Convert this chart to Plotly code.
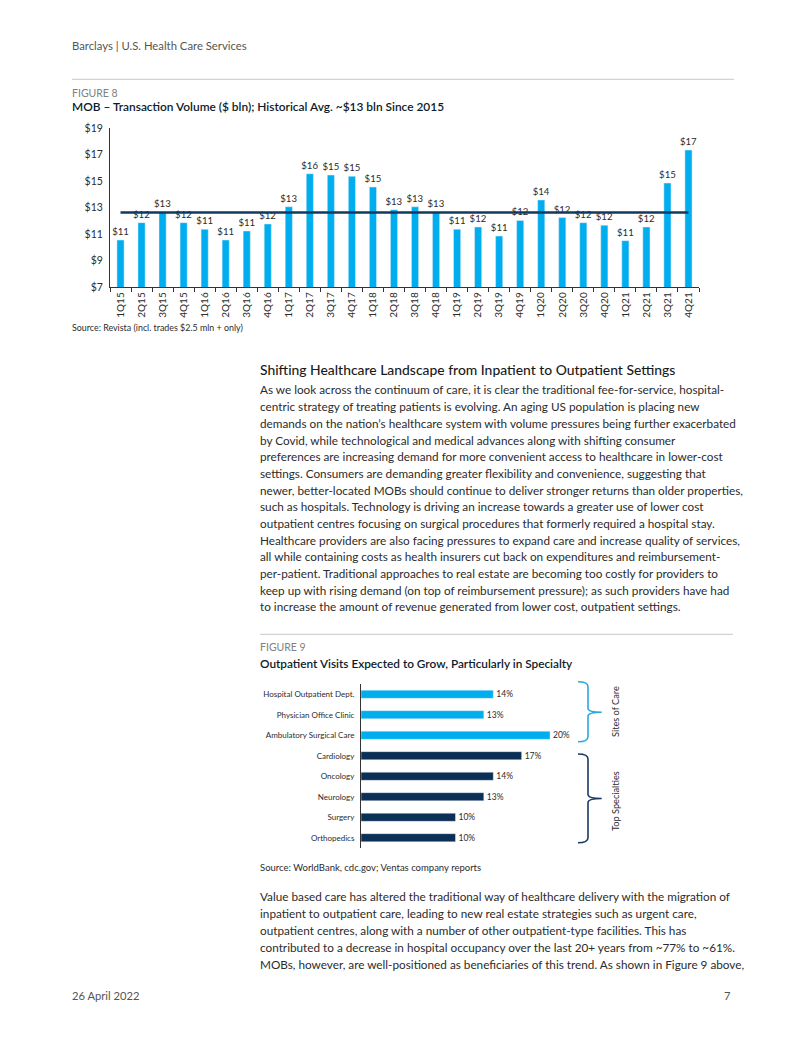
import plotly.graph_objects as go
import numpy as np

# ---------------- data ----------------
quarters = ["1Q15", "2Q15", "3Q15", "4Q15", "1Q16", "2Q16", "3Q16", "4Q16",
            "1Q17", "2Q17", "3Q17", "4Q17", "1Q18", "2Q18", "3Q18", "4Q18",
            "1Q19", "2Q19", "3Q19", "4Q19", "1Q20", "2Q20", "3Q20", "4Q20",
            "1Q21", "2Q21", "3Q21", "4Q21"]
mob_volume = [10.57, 11.88, 12.66, 11.88, 11.38, 10.57, 11.25, 11.78,
              13.08, 15.57, 15.47, 15.38, 14.57, 12.86, 13.08, 12.66,
              11.38, 11.55, 10.87, 12.05, 13.59, 12.26, 11.88, 11.68,
              10.52, 11.55, 14.87, 17.36]
hist_avg = float(np.mean(mob_volume))

visit_categories = ["Hospital Outpatient Dept.", "Physician Office Clinic",
                    "Ambulatory Surgical Care", "Cardiology", "Oncology",
                    "Neurology", "Surgery", "Orthopedics"]
visit_growth = [14, 13, 20, 17, 14, 13, 10, 10]
visit_groups = ["Sites of Care"] * 3 + ["Top Specialties"] * 5

para1 = [
    "As we look across the continuum of care, it is clear the traditional fee-for-service, hospital-",
    "centric strategy of treating patients is evolving. An aging US population is placing new",
    "demands on the nation\u2019s healthcare system with volume pressures being further exacerbated",
    "by Covid, while technological and medical advances along with shifting consumer",
    "preferences are increasing demand for more convenient access to healthcare in lower-cost",
    "settings. Consumers are demanding greater flexibility and convenience, suggesting that",
    "newer, better-located MOBs should continue to deliver stronger returns than older properties,",
    "such as hospitals. Technology is driving an increase towards a greater use of lower cost",
    "outpatient centres focusing on surgical procedures that formerly required a hospital stay.",
    "Healthcare providers are also facing pressures to expand care and increase quality of services,",
    "all while containing costs as health insurers cut back on expenditures and reimbursement-",
    "per-patient. Traditional approaches to real estate are becoming too costly for providers to",
    "keep up with rising demand (on top of reimbursement pressure); as such providers have had",
    "to increase the amount of revenue generated from lower cost, outpatient settings.",
]
para2 = [
    "Value based care has altered the traditional way of healthcare delivery with the migration of",
    "inpatient to outpatient care, leading to new real estate strategies such as urgent care,",
    "outpatient centres, along with a number of other outpatient-type facilities. This has",
    "contributed to a decrease in hospital occupancy over the last 20+ years from ~77% to ~61%.",
    "MOBs, however, are well-positioned as beneficiaries of this trend. As shown in Figure 9 above,",
]

# ---------------- styling ----------------
W, H = 802, 1037
FONT = "Lato"
CYAN = "#00AEEF"
NAVY = "#0B2F55"
TXT = "#2B2B2B"
GREY = "#808080"
BODY = 11.75
group_colors = {"Sites of Care": CYAN, "Top Specialties": NAVY}


def X(px):
    return px / W


def Y(py):
    return 1 - py / H


fig = go.Figure()

# Figure 8 bars
fig.add_trace(go.Bar(
    x=quarters, y=mob_volume, width=0.34, marker_color=CYAN,
    texttemplate="$%{y:.0f}", textposition="outside", constraintext="none",
    textfont=dict(size=9.6, color=TXT, family=FONT), cliponaxis=False,
    xaxis="x", yaxis="y", showlegend=False,
))
fig.add_trace(go.Scatter(
    x=quarters, y=[hist_avg] * len(quarters), mode="lines",
    line=dict(color="#12385E", width=2.5), xaxis="x", yaxis="y",
    showlegend=False, cliponaxis=False,
))

# Figure 9 bars
fig.add_trace(go.Bar(
    x=visit_growth, y=visit_categories, orientation="h", width=0.4,
    marker_color=[group_colors[g] for g in visit_groups],
    texttemplate="%{x:.0f}%", textposition="outside", constraintext="none",
    textfont=dict(size=8.5, color=TXT, family=FONT), cliponaxis=False,
    xaxis="x2", yaxis="y2", showlegend=False,
))

annotations = []


def txt(x, y, text, size, color=TXT, anchor="left", weight=None, angle=0):
    f = dict(family=FONT, size=size, color=color)
    if weight:
        f["weight"] = weight
    annotations.append(dict(
        x=X(x), y=Y(y), xref="paper", yref="paper", text=text, showarrow=False,
        xanchor=anchor, yanchor="middle", font=f, textangle=angle,
        borderpad=0, borderwidth=0,
    ))


txt(72, 46, "Barclays | U.S. Health Care Services", 11.3, "#555555")
txt(72, 93, "FIGURE 8", 10.5, GREY)
txt(72, 107, "MOB \u2013 Transaction Volume ($ bln); Historical Avg. ~$13 bln Since 2015", 11.9, "#0D1B2A", weight=600)
txt(72, 327, "Source: Revista (incl. trades $2.5 mln + only)", 8.9, TXT)

txt(260, 369, "Shifting Healthcare Landscape from Inpatient to Outpatient Settings", 13.9, "#1A1A1A", weight=500)
for i, line in enumerate(para1):
    txt(260, 390 + i * 16.67, line, BODY, TXT)

txt(260, 647, "FIGURE 9", 10.5, GREY)
txt(260, 663, "Outpatient Visits Expected to Grow, Particularly in Specialty", 11.8, "#0D1B2A", weight=600)
txt(260, 867, "Source: WorldBank, cdc.gov; Ventas company reports", 9.5, TXT)
txt(615, 712, "Sites of Care", 9.2, TXT, anchor="center", angle=-90)
txt(615, 801, "Top Specialties", 9.2, TXT, anchor="center", angle=-90)

for i, line in enumerate(para2):
    txt(260, 896 + i * 17, line, BODY, TXT)

txt(72, 995, "26 April 2022", 11.2, "#555555")
txt(731, 995, "7", 11.2, "#555555", anchor="right")


def bracket(top, mid, bot, color):
    xa, xv, xt = 578, 588, 601.7
    p = (f"M {X(xa)},{Y(top)} Q {X(xv)},{Y(top)} {X(xv)},{Y(top + 5)} "
         f"L {X(xv)},{Y(mid - 4)} Q {X(xv)},{Y(mid)} {X(xt)},{Y(mid)} "
         f"M {X(xt)},{Y(mid)} Q {X(xv)},{Y(mid)} {X(xv)},{Y(mid + 4)} "
         f"L {X(xv)},{Y(bot - 5)} Q {X(xv)},{Y(bot)} {X(xa)},{Y(bot)}")
    return dict(type="path", xref="paper", yref="paper", path=p,
                line=dict(color=color, width=1.6))


shapes = [
    dict(type="line", xref="paper", yref="paper", x0=X(72), x1=X(734), y0=Y(79.3), y1=Y(79.3),
         line=dict(color="#C8C8C8", width=1)),
    dict(type="line", xref="paper", yref="paper", x0=X(260), x1=X(733), y0=Y(634.3), y1=Y(634.3),
         line=dict(color="#C8C8C8", width=1)),
    bracket(681.7, 712.3, 741.7, "#2BA8E0"),
    bracket(754, 798.5, 842.7, "#1B3A63"),
]

fig.update_layout(
    width=W, height=H, autosize=False,
    margin=dict(l=0, r=0, t=0, b=0, pad=0, autoexpand=False),
    paper_bgcolor="white", plot_bgcolor="white",
    font=dict(family=FONT, color=TXT),
    annotations=annotations, shapes=shapes,
    modebar=dict(bgcolor="rgba(0,0,0,0)", color="rgba(0,0,0,0)", activecolor="rgba(0,0,0,0)"),
    xaxis=dict(domain=[X(110), X(699)], anchor="y", type="category", automargin=False,
               showline=True, linecolor="#333333", linewidth=1,
               ticks="outside", tickson="boundaries", ticklen=4, tickcolor="#333333",
               tickangle=-90, tickfont=dict(size=10, color=TXT), showgrid=False),
    yaxis=dict(domain=[Y(287.3), Y(128.3)], anchor="x", range=[7, 19], tick0=7, dtick=2,
               tickprefix="$", showline=True, linecolor="#333333", linewidth=1, automargin=False,
               ticks="", tickfont=dict(size=10.5, color=TXT), showgrid=False,
               zeroline=False, ticklabelstandoff=4),
    xaxis2=dict(domain=[X(361), X(361 + 9.45 * 22)], anchor="y2", range=[0, 22],
                visible=False, automargin=False),
    yaxis2=dict(domain=[Y(848), Y(684)], anchor="x2", type="category", automargin=False,
                autorange="reversed", showline=True, linecolor="#333333", linewidth=1,
                ticks="", tickfont=dict(size=8, color=TXT), showgrid=False,
                ticklabelstandoff=4),
)

fig.write_html("out.html", config={"displayModeBar": False},
               post_script="document.body.style.margin='0px';")
